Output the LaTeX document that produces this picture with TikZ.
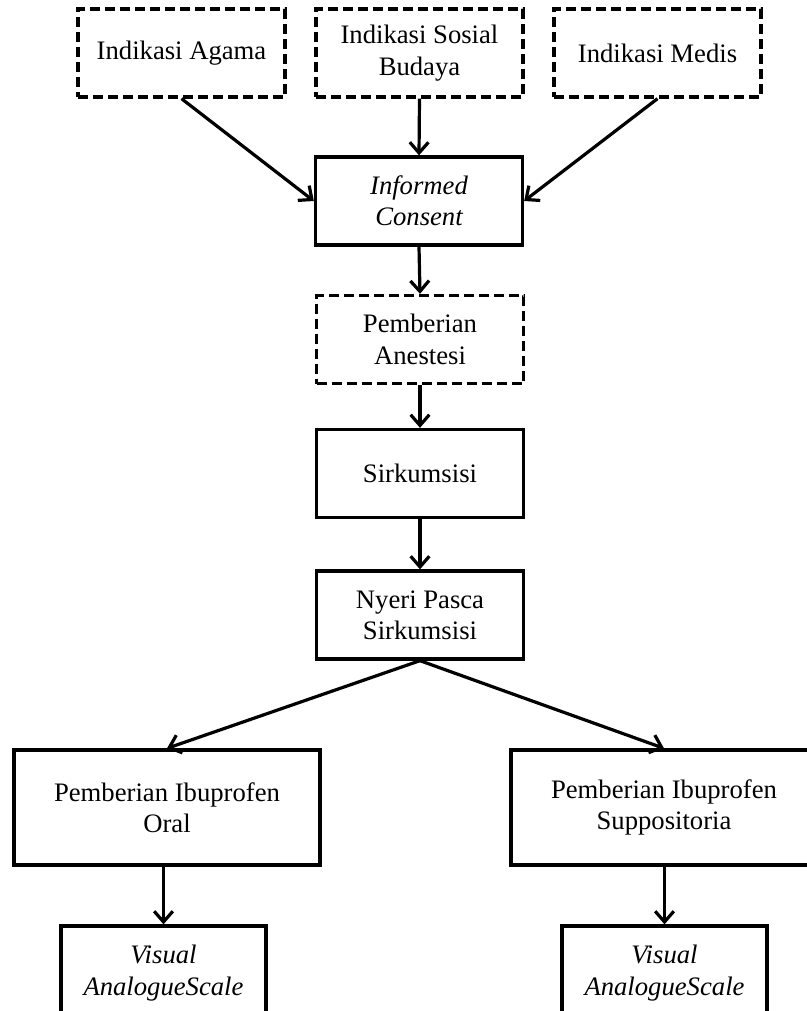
\documentclass[tikz,border=0pt]{standalone}
\usepackage{fontspec}
\setmainfont{Liberation Serif}
\usetikzlibrary{arrows.meta}
\begin{document}
\begin{tikzpicture}[x=0.75pt,y=-0.75pt,
  box/.style={draw, line width=2.5pt, minimum width=155.25pt, minimum height=66pt, align=center, inner sep=0pt, font=\fontsize{20}{23.5}\selectfont},
  dbox/.style={box, dash pattern=on 7.5pt off 3.75pt},
  wbox/.style={box, minimum width=229.5pt, minimum height=86.25pt},
  vbox/.style={box, minimum width=153.75pt, minimum height=70.5pt},
  arr/.style={line width=2.4pt, -{Straight Barb[length=8pt,width=14pt]}}]
\useasboundingbox (0,0) rectangle (807,1011);
\clip (0,0) rectangle (807,1011);
\fill[white] (0,0) rectangle (807,1011);
\node[dbox] (agama) at (181.5,53) {Indikasi Agama};
\node[dbox] (sosial) at (419.5,53) {Indikasi Sosial\\Budaya};
\node[dbox] (medis) at (657.5,53) {Indikasi Medis};
\node[box] (consent) at (419,201) {\itshape Informed\\\itshape Consent};
\node[dbox] (anestesi) at (420,339.5) {Pemberian\\Anestesi};
\node[box] (sirk) at (420,473.5) {Sirkumsisi};
\node[box] (nyeri) at (420,615) {Nyeri Pasca\\Sirkumsisi};
\node[wbox] (oral) at (167,807.5) {Pemberian Ibuprofen\\Oral};
\node[wbox] (supp) at (664,807.5) {Pemberian Ibuprofen\\Suppositoria};
\node[vbox] (vasl) at (163.5,973) {\itshape Visual\\\itshape AnalogueScale};
\node[vbox] (vasr) at (664.5,973) {\itshape Visual\\\itshape AnalogueScale};
\draw[arr] (agama.south) -- (consent.west);
\draw[arr] (sosial.south) -- (consent.north);
\draw[arr] (medis.south) -- (consent.east);
\draw[arr] (consent.south) -- (anestesi.north);
\draw[arr] (anestesi.south) -- (sirk.north);
\draw[arr] (sirk.south) -- (nyeri.north);
\draw[arr] (nyeri.south) -- (oral.north);
\draw[arr] (nyeri.south) -- (supp.north);
\draw[arr] (oral.south -| vasl.north) -- (vasl.north);
\draw[arr] (supp.south -| vasr.north) -- (vasr.north);
\end{tikzpicture}
\end{document}
